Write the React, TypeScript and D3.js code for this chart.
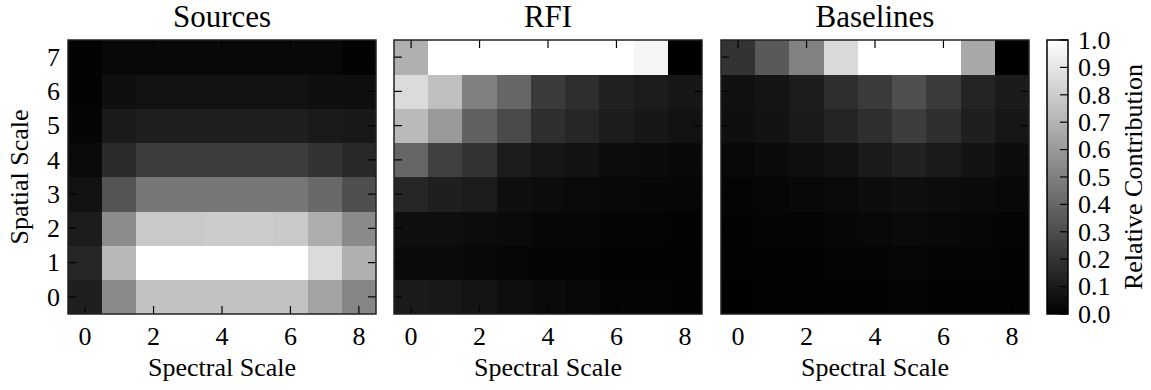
import React, { useEffect } from "react";
import * as d3 from "d3";

// Relative contribution per (spatial scale row, spectral scale column).
// Rows are listed from spatial scale 0 upward to 7; columns are spectral scale 0..8.
const spectralScales = [0, 1, 2, 3, 4, 5, 6, 7, 8];
const spatialScales = [0, 1, 2, 3, 4, 5, 6, 7];
const spectralTicks = [0, 2, 4, 6, 8];
const colorbarTicks = [0, 0.1, 0.2, 0.3, 0.4, 0.5, 0.6, 0.7, 0.8, 0.9, 1.0];

const sources = [
  [0.12, 0.54, 0.76, 0.76, 0.76, 0.76, 0.76, 0.64, 0.52],
  [0.15, 0.72, 1.0, 1.0, 1.0, 1.0, 1.0, 0.86, 0.69],
  [0.11, 0.55, 0.79, 0.79, 0.8, 0.8, 0.79, 0.68, 0.54],
  [0.07, 0.33, 0.465, 0.465, 0.465, 0.465, 0.465, 0.41, 0.31],
  [0.04, 0.165, 0.235, 0.235, 0.235, 0.235, 0.235, 0.2, 0.16],
  [0.02, 0.1, 0.12, 0.12, 0.12, 0.12, 0.12, 0.1, 0.095],
  [0.012, 0.06, 0.07, 0.07, 0.07, 0.07, 0.07, 0.06, 0.06],
  [0.01, 0.03, 0.035, 0.035, 0.035, 0.035, 0.035, 0.03, 0.01],
];

const rfi = [
  [0.1, 0.095, 0.08, 0.055, 0.04, 0.03, 0.02, 0.016, 0.012],
  [0.043, 0.04, 0.03, 0.024, 0.02, 0.016, 0.012, 0.008, 0.008],
  [0.06, 0.055, 0.047, 0.04, 0.028, 0.024, 0.016, 0.016, 0.012],
  [0.15, 0.12, 0.11, 0.06, 0.047, 0.04, 0.03, 0.028, 0.024],
  [0.4, 0.25, 0.2, 0.11, 0.085, 0.07, 0.05, 0.045, 0.035],
  [0.73, 0.6, 0.38, 0.29, 0.18, 0.15, 0.11, 0.09, 0.07],
  [0.86, 0.75, 0.5, 0.4, 0.23, 0.18, 0.13, 0.11, 0.09],
  [0.69, 1.0, 1.0, 1.0, 1.0, 1.0, 1.0, 0.96, 0.0],
];

const baselines = [
  [0.004, 0.006, 0.008, 0.01, 0.012, 0.016, 0.012, 0.01, 0.008],
  [0.008, 0.01, 0.012, 0.016, 0.02, 0.024, 0.02, 0.016, 0.012],
  [0.012, 0.016, 0.02, 0.024, 0.03, 0.04, 0.03, 0.024, 0.02],
  [0.02, 0.024, 0.03, 0.04, 0.05, 0.06, 0.05, 0.04, 0.03],
  [0.03, 0.04, 0.055, 0.07, 0.1, 0.13, 0.1, 0.075, 0.05],
  [0.06, 0.075, 0.1, 0.14, 0.18, 0.24, 0.185, 0.12, 0.085],
  [0.065, 0.08, 0.11, 0.18, 0.23, 0.31, 0.23, 0.14, 0.105],
  [0.2, 0.35, 0.51, 0.85, 1.0, 1.0, 1.0, 0.66, 0.0],
];

const panels = [
  { title: "Sources", values: sources, x0: 68 },
  { title: "RFI", values: rfi, x0: 394 },
  { title: "Baselines", values: baselines, x0: 721 },
];

const W = 1151;
const H = 390;
const PW = 308;
const TOP = 40;
const BOTTOM = 314;
const TICK = 8;
const txt = (size: number) => ({ fontFamily: '"Liberation Serif"', fontSize: `${size}px` });

const gray = d3.scaleLinear<string>().domain([0, 1]).range(["#000000", "#ffffff"]).clamp(true);

function Panel({ title, values, x0, showY }: { title: string; values: number[][]; x0: number; showY: boolean }) {
  const x = d3.scaleLinear().domain([-0.5, 8.5]).range([x0, x0 + PW]);
  const y = d3.scaleLinear().domain([-0.5, 7.5]).range([BOTTOM, TOP]);
  const cw = x(1) - x(0);
  const ch = y(0) - y(1);
  return (
    <g>
      {spatialScales.map((r) =>
        spectralScales.map((c) => (
          <rect
            key={`${r}-${c}`}
            x={x(c - 0.5)}
            y={y(r + 0.5)}
            width={cw + 0.3}
            height={ch + 0.3}
            fill={gray(values[r][c])}
            shapeRendering="crispEdges"
          />
        ))
      )}
      {spectralTicks.map((t) => (
        <g key={`xt${t}`}>
          <line x1={x(t)} x2={x(t)} y1={BOTTOM} y2={BOTTOM - TICK} stroke="#000" strokeWidth={1.2} />
          <line x1={x(t)} x2={x(t)} y1={TOP} y2={TOP + TICK} stroke="#000" strokeWidth={1.2} />
          <text x={x(t)} y={345} textAnchor="middle" style={txt(26)} fill="#000">
            {t}
          </text>
        </g>
      ))}
      {spatialScales.map((t) => (
        <g key={`yt${t}`}>
          <line x1={x0} x2={x0 + TICK} y1={y(t)} y2={y(t)} stroke="#000" strokeWidth={1.2} />
          <line x1={x0 + PW} x2={x0 + PW - TICK} y1={y(t)} y2={y(t)} stroke="#000" strokeWidth={1.2} />
          {showY && (
            <text x={x0 - 8} y={y(t)} dy="0.34em" textAnchor="end" style={txt(26)} fill="#000">
              {t}
            </text>
          )}
        </g>
      ))}
      <rect x={x0} y={TOP} width={PW} height={BOTTOM - TOP} fill="none" stroke="#222" strokeWidth={1.5} />
      <text x={x0 + PW / 2} y={27} textAnchor="middle" style={txt(31)} fill="#000">
        {title}
      </text>
      <text x={x0 + PW / 2} y={376} textAnchor="middle" style={txt(26)} fill="#000">
        Spectral Scale
      </text>
    </g>
  );
}

export default function App() {
  useEffect(() => {
    document.body.style.margin = "0";
  }, []);

  const cbX = 1047;
  const cbW = 21;
  const cy = d3.scaleLinear().domain([0, 1]).range([BOTTOM, TOP]);
  const stops = d3.range(0, 1.0001, 0.1);

  return (
    <svg width={W} height={H} style={{ display: "block", background: "#fff" }}>
      <defs>
        <linearGradient id="cbar" x1="0" y1="1" x2="0" y2="0">
          {stops.map((s) => (
            <stop key={s} offset={s} stopColor={gray(s)} />
          ))}
        </linearGradient>
      </defs>
      {panels.map((p, i) => (
        <Panel key={p.title} title={p.title} values={p.values} x0={p.x0} showY={i === 0} />
      ))}
      <text
        transform={`translate(28, ${(TOP + BOTTOM) / 2}) rotate(-90)`}
        textAnchor="middle"
        style={txt(26)}
        fill="#000"
      >
        Spatial Scale
      </text>
      <rect x={cbX} y={TOP} width={cbW} height={BOTTOM - TOP} fill="url(#cbar)" />
      {colorbarTicks.map((t) => (
        <g key={`cb${t}`}>
          <line x1={cbX + cbW} x2={cbX + cbW - 8} y1={cy(t)} y2={cy(t)} stroke="#000" strokeWidth={1.2} />
          <text x={cbX + cbW + 10} y={cy(t)} dy="0.34em" style={txt(26)} fill="#000">
            {t.toFixed(1)}
          </text>
        </g>
      ))}
      <rect x={cbX} y={TOP} width={cbW} height={BOTTOM - TOP} fill="none" stroke="#000" strokeWidth={1.5} />
      <text
        transform={`translate(1142, ${(TOP + BOTTOM) / 2}) rotate(-90)`}
        textAnchor="middle"
        style={txt(26)}
        fill="#000"
      >
        Relative Contribution
      </text>
    </svg>
  );
}
